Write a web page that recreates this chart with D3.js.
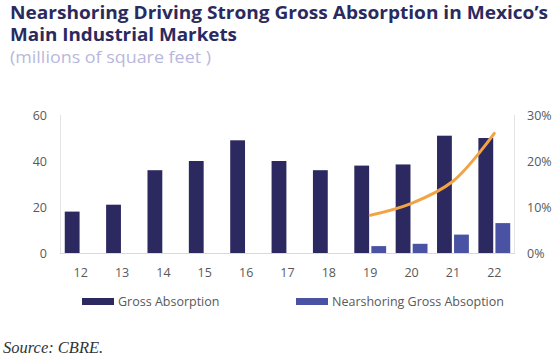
<!DOCTYPE html>
<html>
<head>
<meta charset="utf-8">
<script src="https://cdn.jsdelivr.net/npm/d3@7"></script>
<style>
  body { margin: 0; background: #fff; }
  svg { display: block; font-family: "Open Sans", "Liberation Sans", sans-serif; }
</style>
</head>
<body>
<div id="chart"></div>
<script>
// data
const years = ["12", "13", "14", "15", "16", "17", "18", "19", "20", "21", "22"];
const grossAbsorption = [18, 21, 36, 40, 49, 40, 36, 38, 38.5, 51, 50];
const nearshoring = [null, null, null, null, null, null, null, 3, 4, 8, 13];
const nearshoringShare = [null, null, null, null, null, null, null, 8.2, 10.8, 15.6, 26];
const leftTicks = [0, 20, 40, 60];
const rightTicks = [0, 10, 20, 30];

const width = 560, height = 358;
const margin = { top: 115, right: 45, bottom: 105, left: 60 };

const svg = d3.select("#chart")
    .append("svg")
    .attr("width", width)
    .attr("height", height);

// titles
svg.append("text")
    .attr("x", 10).attr("y", 19)
    .attr("font-size", 17).attr("font-weight", 700)
    .attr("fill", "#2b2a5e")
    .attr("textLength", 538)
    .attr("lengthAdjust", "spacingAndGlyphs")
    .text("Nearshoring Driving Strong Gross Absorption in Mexico\u2019s");
svg.append("text")
    .attr("x", 10).attr("y", 41)
    .attr("font-size", 17).attr("font-weight", 700)
    .attr("fill", "#2b2a5e")
    .attr("textLength", 227)
    .attr("lengthAdjust", "spacingAndGlyphs")
    .text("Main Industrial Markets");
svg.append("text")
    .attr("x", 10).attr("y", 63)
    .attr("font-size", 16)
    .attr("fill", "#b8b8dc")
    .attr("textLength", 201)
    .attr("lengthAdjust", "spacingAndGlyphs")
    .text("(millions of square feet )");

const x = d3.scaleBand()
    .domain(years)
    .range([margin.left, width - margin.right])
    .paddingInner(0.23)
    .paddingOuter(0.115);

const sub = d3.scaleBand()
    .domain(["gross", "near"])
    .range([0, x.bandwidth()])
    .paddingInner(0.13);

const y = d3.scaleLinear()
    .domain([0, 60])
    .range([height - margin.bottom, margin.top]);

const y2 = d3.scaleLinear()
    .domain([0, 30])
    .range([height - margin.bottom, margin.top]);

// axis lines
svg.append("line")
    .attr("x1", margin.left + 0.5).attr("x2", margin.left + 0.5)
    .attr("y1", y(60)).attr("y2", y(0))
    .attr("stroke", "#e3e3e3");
svg.append("line")
    .attr("x1", width - margin.right - 0.5).attr("x2", width - margin.right - 0.5)
    .attr("y1", y(60)).attr("y2", y(0))
    .attr("stroke", "#e3e3e3");

// left axis labels
svg.append("g")
    .selectAll("text")
    .data(leftTicks)
    .join("text")
    .attr("x", 47)
    .attr("y", d => y(d) + 4.5)
    .attr("text-anchor", "end")
    .attr("font-size", 12.5)
    .attr("fill", "#595959")
    .text(d => d);

// right axis labels
svg.append("g")
    .selectAll("text")
    .data(rightTicks)
    .join("text")
    .attr("x", 527)
    .attr("y", d => y2(d) + 4.5)
    .attr("font-size", 12.5)
    .attr("fill", "#595959")
    .text(d => d + "%");

// bars
const groups = svg.append("g")
    .selectAll("g")
    .data(years)
    .join("g")
    .attr("transform", d => `translate(${x(d)},0)`);

groups.append("rect")
    .attr("x", sub("gross"))
    .attr("width", sub.bandwidth())
    .attr("y", (d, i) => y(grossAbsorption[i]))
    .attr("height", (d, i) => y(0) - y(grossAbsorption[i]))
    .attr("fill", "#2c2860");

groups.filter((d, i) => nearshoring[i] != null)
    .append("rect")
    .attr("x", sub("near"))
    .attr("width", sub.bandwidth())
    .attr("y", d => y(nearshoring[years.indexOf(d)]))
    .attr("height", d => y(0) - y(nearshoring[years.indexOf(d)]))
    .attr("fill", "#4a53a3");

// baseline
svg.append("line")
    .attr("x1", margin.left).attr("x2", width - margin.right)
    .attr("y1", y(0) + 0.5).attr("y2", y(0) + 0.5)
    .attr("stroke", "#d9d9d9");

// x labels
svg.append("g")
    .selectAll("text")
    .data(years)
    .join("text")
    .attr("x", d => x(d) + x.bandwidth() / 2)
    .attr("y", 277)
    .attr("text-anchor", "middle")
    .attr("font-size", 12.5)
    .attr("fill", "#595959")
    .text(d => d);

// share line
const lineData = years.map((d, i) => ({ year: d, v: nearshoringShare[i] }))
    .filter(d => d.v != null);

svg.append("path")
    .datum(lineData)
    .attr("fill", "none")
    .attr("stroke", "#f2a445")
    .attr("stroke-width", 3)
    .attr("stroke-linecap", "round")
    .attr("d", d3.line()
        .x(d => x(d.year) + x.bandwidth() / 2)
        .y(d => y2(d.v))
        .curve(d3.curveCatmullRom.alpha(0.5)));

// legend
const legend = [
    { label: "Gross Absorption", color: "#2c2860", x: 82 },
    { label: "Nearshoring Gross Absoption", color: "#4a53a3", x: 296 }
];
const lg = svg.append("g")
    .selectAll("g")
    .data(legend)
    .join("g")
    .attr("transform", d => `translate(${d.x},298)`);
lg.append("rect")
    .attr("width", 32).attr("height", 7)
    .attr("fill", d => d.color);
lg.append("text")
    .attr("x", 36).attr("y", 7.5)
    .attr("font-size", 12.5)
    .attr("fill", "#595959")
    .text(d => d.label);

// source
svg.append("text")
    .attr("x", 3).attr("y", 353)
    .attr("font-family", "Liberation Serif, serif")
    .attr("font-style", "italic")
    .attr("font-size", 16.5)
    .attr("fill", "#333")
    .text("Source: CBRE.");
</script>
</body>
</html>
